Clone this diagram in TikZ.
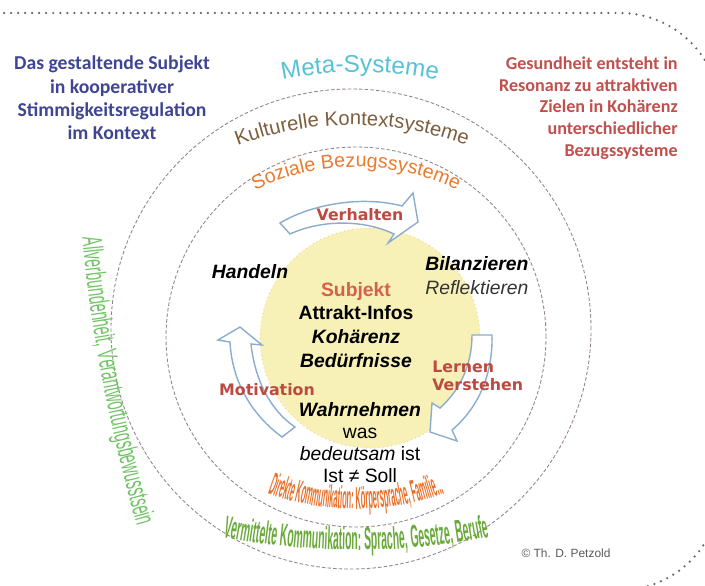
\documentclass[tikz,border=0pt]{standalone}
\usepackage{fontspec}
\usepackage{xcolor}
\usetikzlibrary{decorations.text}
\setmainfont{Liberation Sans}
\newfontfamily\calibfont{Carlito}
\newfontfamily\verdfont{DejaVu Sans}
\newfontfamily\sidefont[FakeStretch=0.51]{Liberation Sans}
\newfontfamily\directfont[FakeStretch=0.24]{Liberation Sans Bold}
\newfontfamily\mediafont[FakeStretch=0.33]{Liberation Sans Bold}

\definecolor{metacyan}{HTML}{55C3D6}
\definecolor{kultbrown}{HTML}{7D5E3C}
\definecolor{sozorange}{HTML}{EC7A2F}
\definecolor{directorange}{HTML}{E8702A}
\definecolor{subjblue}{HTML}{3F4593}
\definecolor{gesred}{HTML}{C0504D}
\definecolor{labelred}{HTML}{BC4A42}
\definecolor{subjred}{HTML}{D4604E}
\definecolor{arrowblue}{HTML}{8AADCF}
\definecolor{ringgray}{HTML}{948584}
\definecolor{subjyellow}{HTML}{F7F1B7}
\definecolor{sidegreen}{HTML}{6FC463}
\definecolor{mediagreen}{HTML}{6AAA3A}
\definecolor{dotgray}{HTML}{666666}

\begin{document}
\begin{tikzpicture}[x=0.02cm, y=0.02cm,
    ring/.style={draw=ringgray, line width=0.5pt, dash pattern=on 2pt off 1.2pt},
    cyclearrow/.style={draw=arrowblue, fill=white, line width=0.8pt},
    steplabel/.style={text=labelred, inner sep=0pt, font=\verdfont\bfseries\fontsize{9}{10.5}\selectfont},
    maintext/.style={inner sep=0pt, font=\fontsize{11}{13.6}\selectfont}]
    \useasboundingbox (0,0) rectangle (705,-585);

    % Dotted frame, only its top right part shows
    \draw[dotgray, line width=1.4pt, line cap=round, dash pattern=on 0pt off 4pt]
        (-10,-13) -- (620,-13) arc[start angle=90, end angle=0, radius=100] -- (720,-490)
        arc[start angle=0, end angle=-90, radius=100];

    % Dashed rings and the subject circle
    \draw[ring] (351,-329) circle[radius=240];
    \draw[ring] (356,-337) circle[radius=190];
    \draw[fill=subjyellow, draw=orange!55, dotted, line width=0.4pt] (370,-338) circle[radius=110];

    % Curved block arrows of the cycle
    \draw[cyclearrow] (280,-223) .. controls (310,-205) and (360,-195) .. (402,-206) -- (413,-193) -- (418,-222) -- (388,-243) -- (394,-234) .. controls (360,-218) and (318,-221) .. (290,-234) -- cycle;
    \draw[cyclearrow] (472,-335) -- (492,-335) .. controls (493,-375) and (478,-408) .. (452,-430) -- (457,-441) -- (430,-432) -- (432,-403) -- (440,-408) .. controls (460,-390) and (472,-365) .. (472,-335) -- cycle;
    \draw[cyclearrow] (240,-327) -- (262,-345) -- (251,-344) .. controls (255,-380) and (270,-410) .. (295,-427) -- (282,-437) .. controls (252,-415) and (232,-382) .. (230,-342) -- (218,-340) -- cycle;

    % Texts set along arcs
    \path[decorate, decoration={text along path, text align=center, text color=metacyan,
        text={|\fontsize{13.8}{16}\selectfont|Meta-Systeme}}]
        (360,-470) ++(102:398) arc[start angle=102, end angle=78, radius=398];
    \path[decorate, decoration={text along path, text align=center, text color=kultbrown,
        text={|\fontsize{11.5}{14}\selectfont|Kulturelle Kontextsysteme}}]
        (352,-450) ++(113:325) arc[start angle=113, end angle=67, radius=325];
    \path[decorate, decoration={text along path, text align=center, text color=sozorange,
        text={|\fontsize{11.2}{13}\selectfont|Soziale Bezugssysteme}}]
        (356,-398) ++(118:231) arc[start angle=118, end angle=62, radius=231];
    \path[decorate, decoration={text along path, text align=center, text color=directorange,
        text={|\directfont\fontsize{18}{20}\selectfont|Direkte Kommunikation: Körpersprache, Familie...}}]
        (356,-249) ++(235:260) arc[start angle=235, end angle=305, radius=260];
    \path[decorate, decoration={text along path, text align=center, text color=mediagreen,
        text={|\mediafont\fontsize{18}{20}\selectfont|Vermittelte Kommunikation: Sprache, Gesetze, Berufe}}]
        (356,150) ++(255:700) arc[start angle=255, end angle=285, radius=700];
    \path[decorate, decoration={text along path, text align=center, text color=sidegreen,
        text={|\sidefont\fontsize{16}{18}\selectfont|Allverbundenheit, Verantwortungsbewusstsein}}]
        (82,-234) .. controls (90,-330) and (110,-430) .. (138,-530);

    % Corner texts
    \node[text=subjblue, align=center, inner sep=0pt, font=\calibfont\bfseries\fontsize{11.2}{13.3}\selectfont] (gestaltend) at (112,-98)
        {Das gestaltende Subjekt\\in kooperativer\\Stimmigkeitsregulation\\im Kontext};
    \node[text=gesred, align=right, anchor=east, inner sep=0pt, font=\calibfont\bfseries\fontsize{10.3}{12.4}\selectfont] (gesundheit) at (678,-108)
        {Gesundheit entsteht in\\Resonanz zu attraktiven\\Zielen in Kohärenz\\unterschiedlicher\\Bezugssysteme};

    % Subject and its cycle
    \node[maintext, align=center] (subjekt) at (356,-325)
        {\textcolor{subjred}{\textbf{Subjekt}}\\\textbf{Attrakt-Infos}\\\textbf{\textit{Kohärenz}}\\\textbf{\textit{Bedürfnisse}}};
    \node[maintext, font=\bfseries\itshape\fontsize{11}{13.6}\selectfont] (handeln) at (250,-272) {Handeln};
    \node[maintext, align=left, anchor=west] (bilanz) at (425,-276)
        {\textbf{\textit{Bilanzieren}}\\\textcolor{black!80}{\textit{Reflektieren}}};
    \node[maintext, align=center, font=\fontsize{11}{12.5}\selectfont] (wahrnehmen) at (360,-443)
        {\textbf{\textit{Wahrnehmen}}\\was\\\textit{bedeutsam} ist\\Ist ≠ Soll};

    % Labels on the arrows
    \node[steplabel] (verhalten) at (360,-215) {Verhalten};
    \node[steplabel, align=left, anchor=west] (lernen) at (432,-376) {Lernen\\Verstehen};
    \node[steplabel] (motivation) at (267,-390) {Motivation};

    \node[text=black!65, inner sep=0pt, font=\fontsize{6.8}{8}\selectfont] (copyright) at (566,-553) {© Th. D. Petzold};
\end{tikzpicture}
\end{document}
